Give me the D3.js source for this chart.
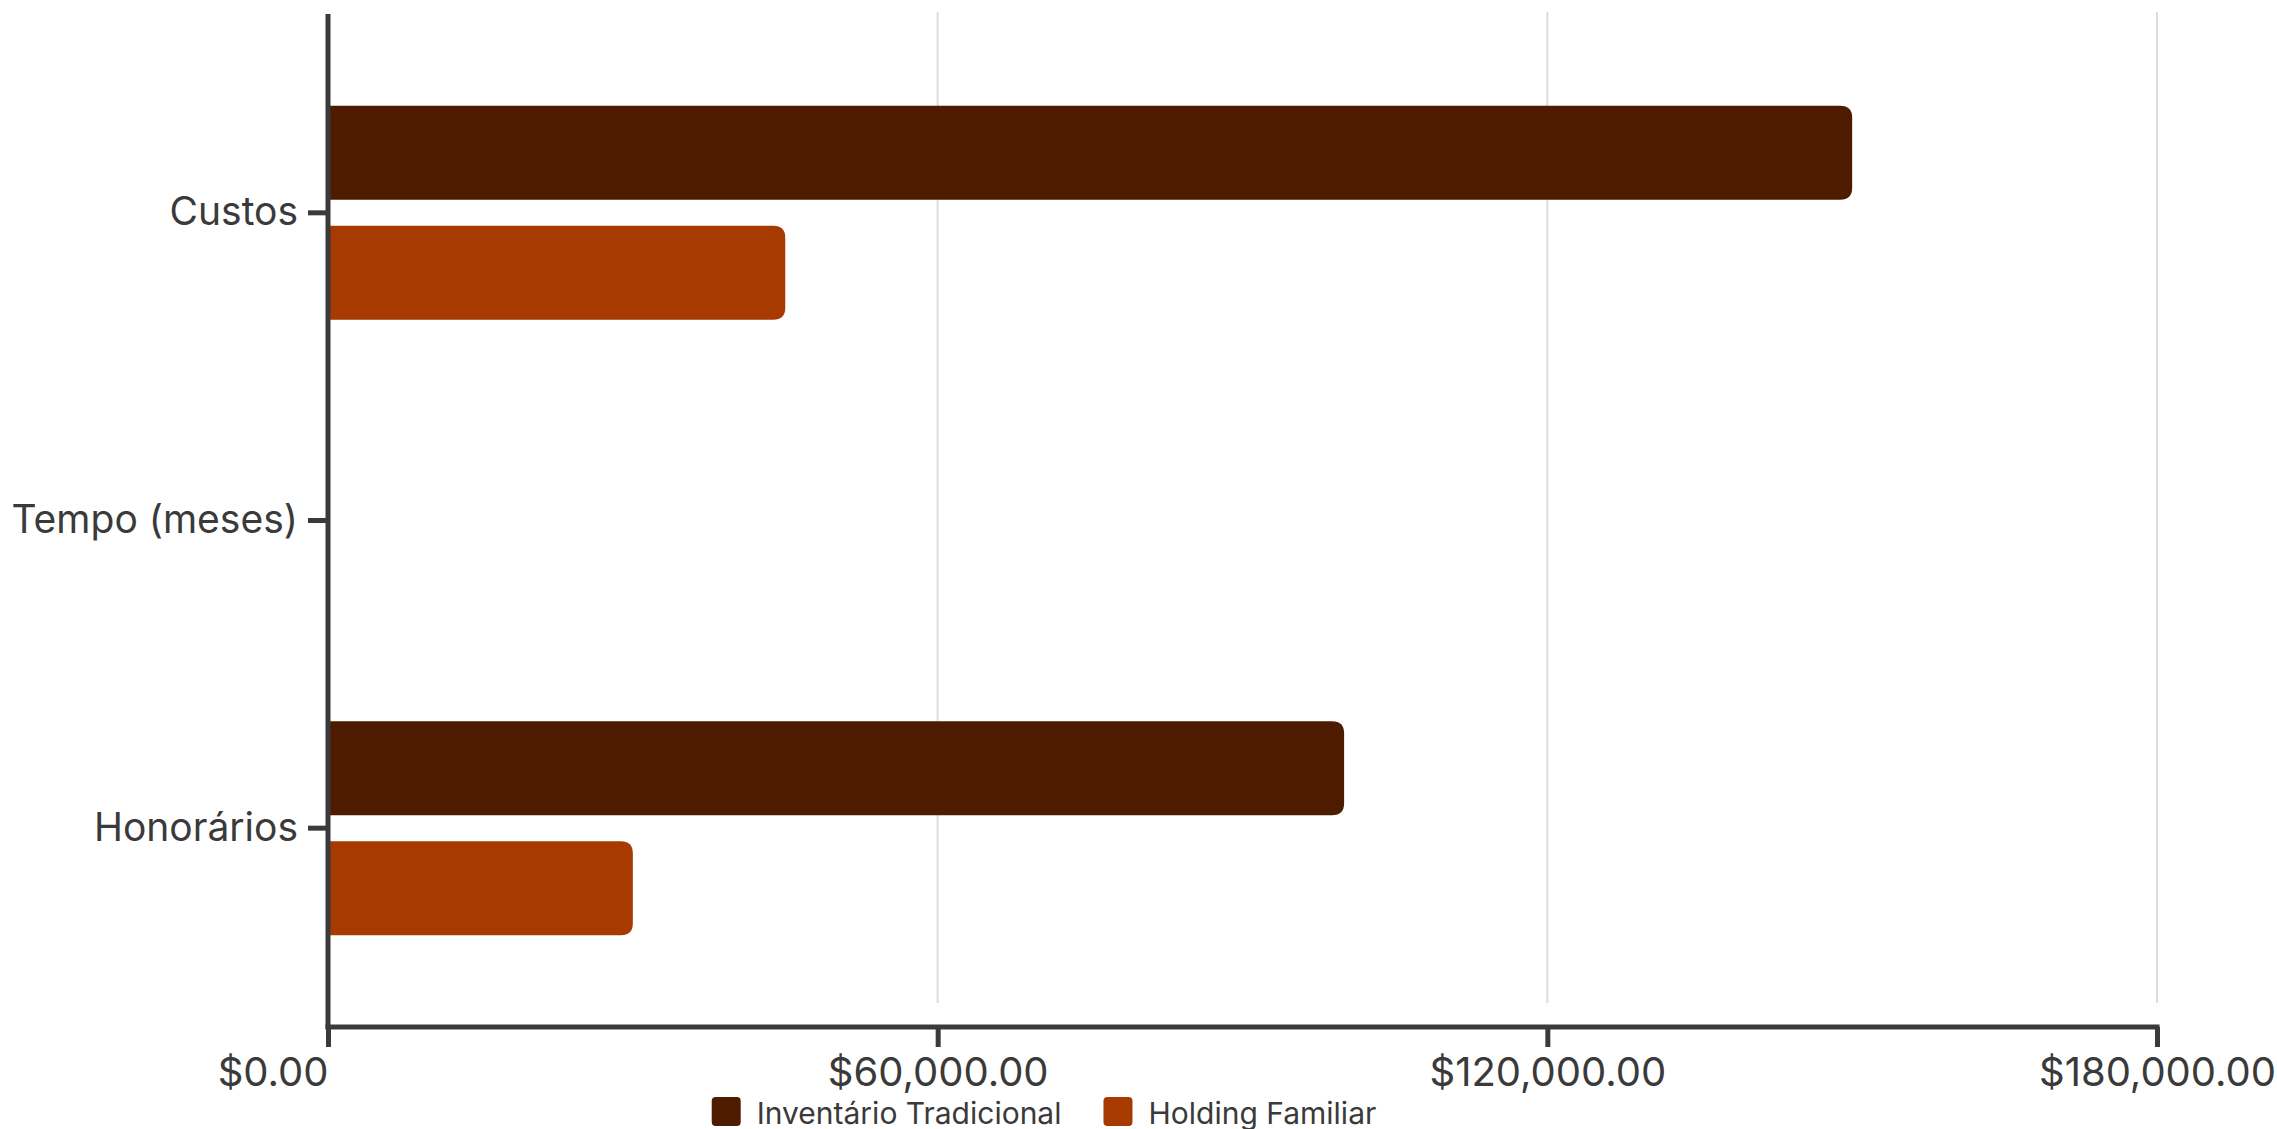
<!DOCTYPE html>
<html>
<head>
<meta charset="utf-8">
<script src="https://cdn.jsdelivr.net/npm/d3@7"></script>
<style>
    html, body { margin: 0; padding: 0; background: #fff; }
    svg { display: block; font-family: Inter, "Noto Sans", sans-serif; }
</style>
</head>
<body>
<div id="chart"></div>
<script>
// Data
const categories = ["Custos", "Tempo (meses)", "Honorários"];
const seriesNames = ["Inventário Tradicional", "Holding Familiar"];
const seriesColors = ["#4d1b00", "#a63a00"];
const tradicionalValues = [150000, 24, 100000];
const holdingValues = [45000, 6, 30000];
const xTicks = [0, 60000, 120000, 180000];

const width = 2277, height = 1129;
const axisColor = "#3a3a3a";

const svg = d3.select("#chart")
    .append("svg")
    .attr("width", width)
    .attr("height", height);

svg.append("rect").attr("width", width).attr("height", height).attr("fill", "#fff");

const x = d3.scaleLinear()
    .domain([0, 180000])
    .range([328, 2157]);

const y = d3.scaleBand()
    .domain(categories)
    .range([59, 982]);

const ySub = d3.scaleBand()
    .domain(seriesNames)
    .range([0, y.bandwidth()])
    .paddingInner(0.217)
    .paddingOuter(0.39);

const fmt = d3.format("$,.2f");

// grid lines
svg.append("g")
    .selectAll("line")
    .data(xTicks.filter(d => d > 0))
    .enter()
    .append("line")
    .attr("x1", d => x(d))
    .attr("x2", d => x(d))
    .attr("y1", 12)
    .attr("y2", 1003)
    .attr("stroke", "#dcdcdc")
    .attr("stroke-width", 2);

// bars
const rows = categories.map((c, i) => ({
    cat: c,
    values: [tradicionalValues[i], holdingValues[i]]
}));

function barPath(x0, x1, y0, h, r) {
    const w = x1 - x0;
    r = Math.min(r, w, h / 2);
    return `M${x0},${y0}H${x1 - r}Q${x1},${y0} ${x1},${y0 + r}` +
        `V${y0 + h - r}Q${x1},${y0 + h} ${x1 - r},${y0 + h}H${x0}Z`;
}

svg.append("g")
    .selectAll("g")
    .data(rows)
    .enter()
    .append("g")
    .attr("transform", d => `translate(0,${y(d.cat)})`)
    .selectAll("path")
    .data(d => d.values.map((v, j) => ({ name: seriesNames[j], value: v, color: seriesColors[j] })))
    .enter()
    .append("path")
    .attr("d", d => barPath(x(0), x(d.value), ySub(d.name), ySub.bandwidth(), 12))
    .attr("fill", d => d.color);

// x axis
const xAxis = svg.append("g")
    .attr("transform", "translate(0,1027)")
    .call(d3.axisBottom(x).tickValues(xTicks).tickFormat(fmt).tickSize(20).tickSizeOuter(0));
xAxis.select(".domain").remove();
xAxis.selectAll(".tick line").attr("stroke", axisColor).attr("stroke-width", 5);
xAxis.selectAll(".tick text")
    .attr("y", 45)
    .attr("dy", "0.35em")
    .attr("fill", axisColor)
    .attr("font-size", 40)
    .attr("font-family", "Inter, 'Noto Sans', sans-serif")
    .attr("text-anchor", (d, i) => i === 0 ? "end" : "middle");
xAxis.append("line")
    .attr("x1", x(0) - 2.5).attr("x2", x(180000) + 2.5)
    .attr("y1", 0).attr("y2", 0)
    .attr("stroke", axisColor).attr("stroke-width", 5);

// y axis
const yAxis = svg.append("g")
    .attr("transform", `translate(${x(0)},0)`)
    .call(d3.axisLeft(y).tickSize(20).tickSizeOuter(0).tickPadding(10));
yAxis.select(".domain").remove();
yAxis.selectAll(".tick line").attr("stroke", axisColor).attr("stroke-width", 5);
yAxis.selectAll(".tick text")
    .attr("fill", axisColor)
    .attr("font-size", 39)
    .attr("font-family", "Inter, 'Noto Sans', sans-serif");
yAxis.append("line")
    .attr("x1", 0).attr("x2", 0)
    .attr("y1", 14).attr("y2", 1029)
    .attr("stroke", axisColor).attr("stroke-width", 5);

// legend
const legend = svg.append("g").attr("transform", "translate(0,1097)");
const items = legend.selectAll("g")
    .data(seriesNames)
    .enter()
    .append("g");
items.append("rect")
    .attr("width", 29).attr("height", 29).attr("rx", 4)
    .attr("fill", (d, i) => seriesColors[i]);
items.append("text")
    .attr("x", 45).attr("y", 16).attr("dy", "0.35em")
    .attr("font-size", 30)
    .attr("fill", axisColor)
    .text(d => d);

let offsets = [], total = 0;
items.each(function() {
    const w = this.getBBox().width;
    offsets.push(total);
    total += w + 42;
});
total -= 42;
const start = 1044 - total / 2;
items.attr("transform", (d, i) => `translate(${start + offsets[i]},0)`);
</script>
</body>
</html>
